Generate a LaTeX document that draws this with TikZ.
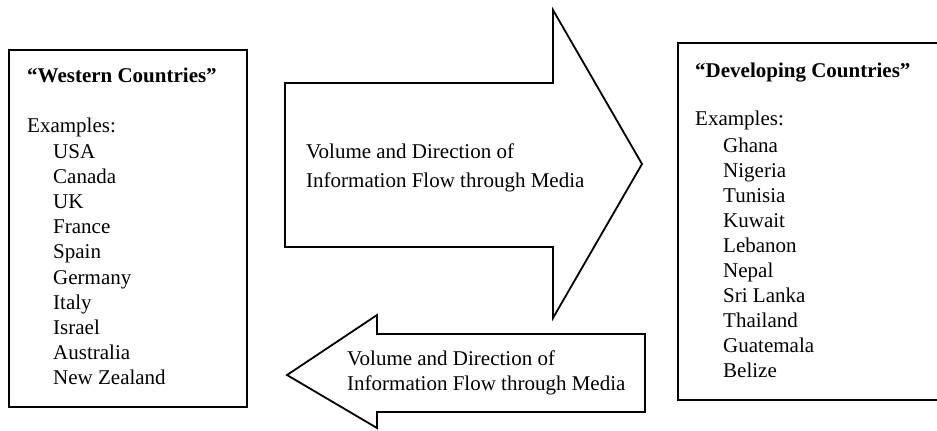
\documentclass[tikz,border=0pt]{standalone}
\usepackage{fontspec}
\setmainfont{Liberation Serif}
\begin{document}
\begin{tikzpicture}[x=1pt,y=-1pt,
  txt/.style={anchor=base west,inner sep=0pt,font=\fontsize{21}{25}\selectfont},
  ttl/.style={txt,font=\fontsize{21}{25}\selectfont\bfseries},
  boxline/.style={line width=2.2pt},
  arrline/.style={line width=1.8pt,line join=miter}]
\clip (0,0) rectangle (937,431);
\useasboundingbox (0,0) rectangle (937,431);
% left box
\draw[boxline] (9,50) rectangle (247,407);
\node[ttl] (wt) at (27,82) {“Western Countries”};
\node[txt] (wex) at (27,132) {Examples:};
\foreach \c [count=\i from 0] in {USA,Canada,UK,France,Spain,Germany,Italy,Israel,Australia,New Zealand}
  \node[txt] (w\i) at (53,158+25.2*\i) {\c};
% right box
\draw[boxline] (678,43) rectangle (950,400);
\node[ttl] (dt) at (695,77) {“Developing Countries”};
\node[txt] (dex) at (695,125) {Examples:};
\foreach \c [count=\i from 0] in {Ghana,Nigeria,Tunisia,Kuwait,Lebanon,Nepal,Sri Lanka,Thailand,Guatemala,Belize}
  \node[txt] (d\i) at (723,152+25*\i) {\c};
% big right arrow
\draw[arrline,fill=white] (285,83) -- (553,83) -- (553,10) -- (642,164) -- (553,318) -- (553,247) -- (285,247) -- cycle;
\node[txt] (a1) at (306,158) {Volume and Direction of};
\node[txt] (a2) at (306,187) {Information Flow through Media};
% small left arrow
\draw[arrline,fill=white] (645,334) -- (377,334) -- (377,315) -- (287,375) -- (377,428) -- (377,412) -- (645,412) -- cycle;
\node[txt] (b1) at (347,365) {Volume and Direction of};
\node[txt] (b2) at (347,390) {Information Flow through Media};
\end{tikzpicture}
\end{document}
